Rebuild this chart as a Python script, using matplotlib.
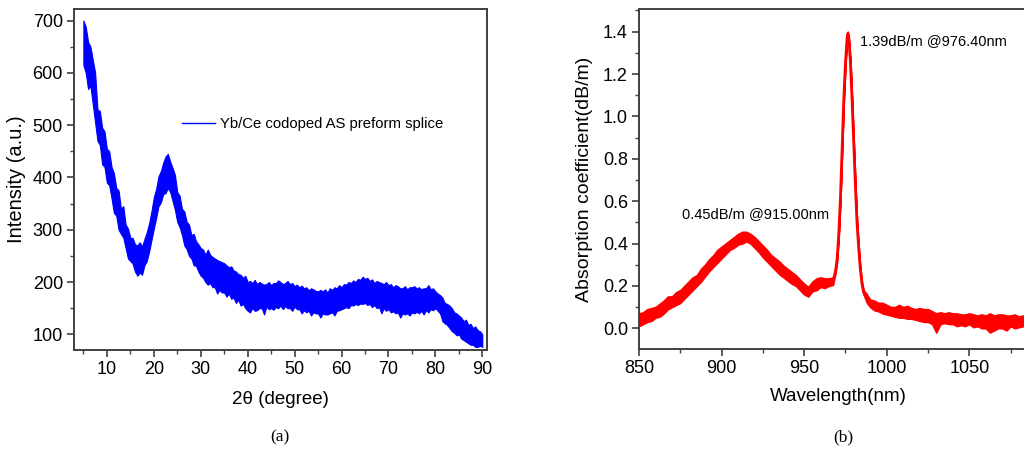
import matplotlib
matplotlib.use("Agg")
import matplotlib.pyplot as plt
import numpy as np
from matplotlib.ticker import MultipleLocator, FormatStrFormatter

plt.rcParams['font.family'] = ['Liberation Sans', 'DejaVu Sans']

# (a) XRD pattern: 2theta (0.5 deg steps) and low / high edge of the noisy trace
two_theta = np.arange(5, 90.01, 0.5)
int_lo = [615, 600, 569, 575, 540, 505, 470, 462, 425, 420, 390, 385, 360,
          332, 327, 300, 292, 285, 265, 245, 240, 235, 220, 212, 218, 214,
          232, 240, 258, 280, 302, 322, 345, 352, 368, 370, 380, 372, 355,
          338, 315, 305, 290, 270, 263, 250, 245, 232, 231, 220, 212, 208,
          200, 195, 198, 190, 190, 178, 185, 180, 180, 172, 178, 168, 170,
          160, 166, 155, 158, 150, 145, 142, 150, 145, 146, 150, 150, 138,
          153, 148, 150, 147, 152, 150, 155, 148, 154, 150, 150, 145, 153,
          148, 148, 140, 146, 142, 145, 136, 142, 140, 140, 132, 140, 138,
          138, 140, 142, 136, 145, 146, 148, 150, 152, 150, 156, 155, 158,
          156, 159, 158, 160, 156, 158, 152, 156, 150, 152, 140, 150, 145,
          148, 142, 144, 140, 142, 132, 140, 138, 140, 136, 142, 140, 143,
          140, 145, 138, 146, 142, 148, 146, 150, 145, 140, 125, 121, 118,
          112, 106, 103, 98, 100, 92, 89, 86, 83, 80, 80, 76, 76, 78, 76]
int_hi = [700, 688, 659, 650, 625, 600, 530, 527, 495, 488, 455, 450, 420,
          408, 380, 375, 340, 345, 310, 302, 285, 284, 272, 270, 276, 268,
          282, 295, 312, 335, 362, 378, 402, 412, 428, 440, 445, 430, 418,
          405, 372, 365, 340, 335, 315, 310, 290, 292, 278, 272, 265, 262,
          252, 262, 252, 248, 245, 242, 240, 238, 236, 232, 228, 230, 222,
          220, 215, 214, 208, 212, 200, 202, 198, 204, 196, 200, 197, 195,
          196, 200, 194, 198, 198, 203, 200, 196, 198, 202, 196, 198, 192,
          195, 190, 193, 188, 190, 184, 188, 186, 183, 182, 185, 182, 186,
          180, 188, 185, 190, 188, 194, 190, 196, 195, 200, 198, 203, 200,
          206, 204, 210, 206, 208, 202, 205, 198, 202, 200, 198, 196, 200,
          194, 196, 190, 194, 192, 188, 188, 192, 186, 190, 190, 192, 188,
          190, 186, 188, 188, 194, 186, 188, 182, 178, 175, 170, 160, 158,
          155, 150, 142, 140, 136, 132, 125, 128, 118, 120, 112, 115, 108,
          106, 100]

# (b) absorption spectrum: wavelength and low / high edge of the trace
wavelength = [850, 852.5, 855, 857.5, 860, 862.5, 865, 867.5, 870, 872.5,
              875, 877.5, 880, 882.5, 885, 887.5, 890, 892.5, 895, 897.5,
              900, 902.5, 905, 907.5, 910, 912.5, 915, 917.5, 920, 922.5,
              925, 927.5, 930, 932.5, 935, 937.5, 940, 942.5, 945, 947.5,
              950, 952.5, 955, 957.5, 960, 962.5, 965, 967.5, 969, 970,
              971, 972, 973, 974, 975, 976, 976.4, 977, 978, 979, 980, 981,
              982, 983, 984, 985, 986, 988, 990, 992.5, 995, 997.5, 1000,
              1002.5, 1005, 1007.5, 1010, 1012.5, 1015, 1017.5, 1020, 1022.5,
              1025, 1027.5, 1030, 1032.5, 1035, 1037.5, 1040, 1042.5, 1045,
              1047.5, 1050, 1052.5, 1055, 1057.5, 1060, 1062.5, 1065, 1067.5,
              1070, 1072.5, 1075, 1077.5, 1080, 1082.5, 1085]
abs_lo = [0.01, 0.02, 0.03, 0.035, 0.05, 0.055, 0.07, 0.09, 0.10, 0.11,
          0.12, 0.14, 0.16, 0.18, 0.20, 0.22, 0.245, 0.27, 0.29, 0.31,
          0.33, 0.35, 0.37, 0.38, 0.395, 0.40, 0.41, 0.40, 0.38, 0.36,
          0.335, 0.315, 0.295, 0.275, 0.255, 0.24, 0.225, 0.21, 0.20, 0.18,
          0.16, 0.15, 0.175, 0.18, 0.195, 0.19, 0.20, 0.205, 0.26, 0.32,
          0.44, 0.61, 0.84, 1.07, 1.24, 1.36, 1.38, 1.36, 1.25, 1.07, 0.87,
          0.67, 0.49, 0.37, 0.27, 0.20, 0.16, 0.12, 0.10, 0.085, 0.08, 0.07,
          0.065, 0.06, 0.055, 0.05, 0.05, 0.045, 0.045, 0.04, 0.035, 0.03,
          0.03, 0.02, -0.02, 0.02, 0.025, 0.02, 0.02, 0.01, 0.015, 0.01,
          0.02, 0.005, 0.01, 0.0, 0.0, -0.02, -0.01, 0.0, 0.0, -0.01, 0.01,
          0.0, 0.005, 0.01, 0.005]
abs_hi = [0.07, 0.075, 0.09, 0.095, 0.10, 0.115, 0.13, 0.15, 0.15, 0.17,
          0.18, 0.20, 0.22, 0.24, 0.25, 0.28, 0.30, 0.325, 0.345, 0.37,
          0.385, 0.40, 0.415, 0.43, 0.445, 0.455, 0.455, 0.445, 0.43, 0.41,
          0.39, 0.37, 0.345, 0.33, 0.315, 0.295, 0.28, 0.265, 0.25, 0.23,
          0.21, 0.195, 0.22, 0.235, 0.24, 0.235, 0.235, 0.24, 0.28, 0.34,
          0.46, 0.63, 0.86, 1.09, 1.26, 1.38, 1.40, 1.38, 1.27, 1.09, 0.89,
          0.69, 0.51, 0.39, 0.29, 0.22, 0.18, 0.16, 0.135, 0.13, 0.12, 0.12,
          0.11, 0.10, 0.10, 0.11, 0.10, 0.105, 0.095, 0.09, 0.095, 0.09,
          0.09, 0.08, 0.07, 0.075, 0.07, 0.075, 0.07, 0.07, 0.065, 0.065,
          0.07, 0.065, 0.06, 0.065, 0.06, 0.07, 0.06, 0.065, 0.065, 0.06,
          0.06, 0.065, 0.055, 0.06, 0.055]

spine_col = '#404040'

fig = plt.figure(figsize=(10.24, 4.5), dpi=100)
ax1 = fig.add_axes([74/1024, 100/450, 413/1024, 341/450])
ax2 = fig.add_axes([639/1024, 101/450, 398/1024, 340/450])

# ---- (a)
ax1.fill_between(two_theta, int_lo, int_hi, color='#0000ff', lw=0.8,
                 edgecolor='#0000ff')
ax1.plot([], [], color='#0000ff', lw=1, label='Yb/Ce codoped AS preform splice')
ax1.set_xlim(3, 91)
ax1.set_ylim(70, 722)
ax1.xaxis.set_minor_locator(MultipleLocator(5))
ax1.yaxis.set_major_locator(MultipleLocator(100))
ax1.yaxis.set_minor_locator(MultipleLocator(50))
ax1.set_xticks(range(10, 91, 10))
ax1.set_xlabel('2θ (degree)', fontsize=13.5, labelpad=9)
ax1.set_ylabel('Intensity (a.u.)', fontsize=14.5, labelpad=5)
ax1.legend(loc='center left', bbox_to_anchor=(0.2615, 0.663), frameon=False,
           fontsize=10.7, handlelength=2.2, handletextpad=0.35,
           borderpad=0, borderaxespad=0)

# ---- (b)
ax2.fill_between(wavelength, abs_lo, abs_hi, color='#ff0000', lw=1.2,
                 edgecolor='#ff0000')
ax2.plot(wavelength, (np.array(abs_lo) + np.array(abs_hi)) / 2,
         color='#ff0000', lw=2)
ax2.set_xlim(850, 1091)
ax2.set_ylim(-0.098, 1.507)
ax2.xaxis.set_major_locator(MultipleLocator(50))
ax2.xaxis.set_minor_locator(MultipleLocator(25))
ax2.yaxis.set_major_locator(MultipleLocator(0.2))
ax2.yaxis.set_minor_locator(MultipleLocator(0.1))
ax2.yaxis.set_major_formatter(FormatStrFormatter('%.1f'))
ax2.set_xlabel('Wavelength(nm)', fontsize=13.5, labelpad=8)
ax2.set_ylabel('Absorption coefficient(dB/m)', fontsize=14, labelpad=7)
ax2.text(876, 0.54, '0.45dB/m @915.00nm', fontsize=10.5, va='center')
ax2.text(984, 1.356, '1.39dB/m @976.40nm', fontsize=10.5, va='center')

for ax in (ax1, ax2):
    for s in ax.spines.values():
        s.set_color(spine_col)
        s.set_linewidth(1.4)
    ax.tick_params(which='major', direction='out', length=5, width=1.2,
                   color=spine_col, labelsize=13, pad=3)
    ax.tick_params(which='minor', direction='out', length=3, width=1.0,
                   color=spine_col)

fig.text(280/1024, 1 - 437/450, '(a)', family='Liberation Serif',
         fontsize=12.5, ha='center', va='center')
fig.text(843/1024, 1 - 437/450, '(b)', family='Liberation Serif',
         fontsize=12.5, ha='center', va='center')

fig.savefig('out.png', dpi=100)
